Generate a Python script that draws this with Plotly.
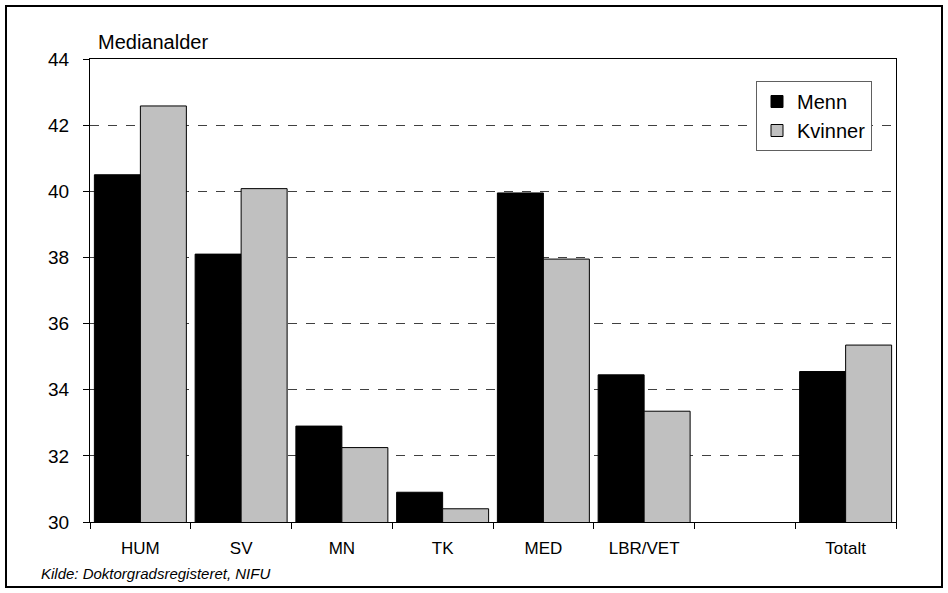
import plotly.graph_objects as go

categories = ["HUM", "SV", "MN", "TK", "MED", "LBR/VET", " ", "Totalt"]
menn = [40.5, 38.1, 32.9, 30.9, 39.95, 34.45, None, 34.55]
kvinner = [42.58, 40.08, 32.25, 30.4, 37.95, 33.35, None, 35.35]
y_ticks = [30, 32, 34, 36, 38, 40, 42, 44]

W, H = 948, 593
L, R, T, B = 90, 52, 59, 71
pw, ph = W - L - R, H - T - B

def px_x(x):
    return (x - L) / pw

def px_y(y):
    return (H - B - y) / ph

FONT = "Liberation Sans, Arial, sans-serif"

fig = go.Figure()
fig.add_trace(go.Bar(name="Menn", x=categories, y=menn,
                     marker=dict(color="#000000", line=dict(color="#000000", width=1))))
fig.add_trace(go.Bar(name="Kvinner", x=categories, y=kvinner,
                     marker=dict(color="#C0C0C0", line=dict(color="#000000", width=1))))

fig.update_layout(
    width=W, height=H,
    margin=dict(l=L, r=R, t=T, b=B),
    paper_bgcolor="white", plot_bgcolor="white",
    barmode="group", bargap=0.087, bargroupgap=0,
    font=dict(family=FONT, color="black", size=17),
    showlegend=True,
    legend=dict(x=px_x(756), y=px_y(81), xanchor="left", yanchor="top",
                bgcolor="white", bordercolor="#606060", borderwidth=1,
                font=dict(size=20, family=FONT), itemwidth=30,
                tracegroupgap=0),
    xaxis=dict(type="category", categoryorder="array", categoryarray=categories,
               showline=True, linecolor="black", linewidth=1, mirror=True,
               ticks="outside", ticklen=6, tickcolor="black", tickson="boundaries",
               showgrid=False, tickfont=dict(size=17), ticklabelstandoff=11),
    yaxis=dict(range=[30, 44], tickvals=y_ticks, showline=True, linecolor="black",
               linewidth=1, mirror=True, ticks="outside", ticklen=6, tickcolor="black",
               showgrid=True, gridcolor="#404040", griddash="dash", gridwidth=1,
               zeroline=False, tickfont=dict(size=19), ticklabelstandoff=10),
    annotations=[
        dict(text="Medianalder", xref="paper", yref="paper", x=px_x(96), y=px_y(42),
             xanchor="left", yanchor="middle", showarrow=False, font=dict(size=20)),
        dict(text="<i>Kilde: Doktorgradsregisteret, NIFU</i>", xref="paper", yref="paper",
             x=px_x(39), y=px_y(573), xanchor="left", yanchor="middle", showarrow=False,
             font=dict(size=15)),
    ],
    shapes=[
        dict(type="rect", xref="paper", yref="paper", x0=px_x(6), x1=px_x(942),
             y0=px_y(587), y1=px_y(6), line=dict(color="black", width=2), layer="below"),
    ],
)

fig.write_html("out.html", config={"displayModeBar": False},
               post_script="document.body.style.margin='0px';document.body.style.overflow='hidden';")
